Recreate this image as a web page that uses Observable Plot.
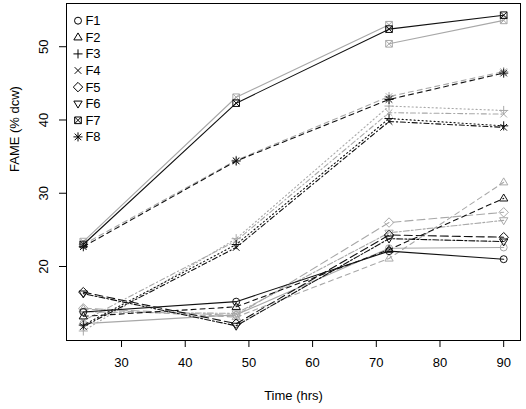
<!DOCTYPE html>
<html><head><meta charset="utf-8">
<script src="https://cdn.jsdelivr.net/npm/d3@7"></script>
<script src="https://cdn.jsdelivr.net/npm/@observablehq/plot@0.6"></script>
<style>body{margin:0;background:#fff} svg{display:block}</style>
</head><body><div id="chart"></div>
<script>
// ---- data ----
const times = [24, 48, 72, 90];
const fractions = ["F1", "F2", "F3", "F4", "F5", "F6", "F7", "F8"];
const xTicks = [30, 40, 50, 60, 70, 80, 90];
const yTicks = [20, 30, 40, 50];

const F1_black = [13.8, 15.2, 22.1, 21.0];
const F1_gray  = [12.2, 13.4, 22.5, 22.6];
const F2_black = [13.2, 14.5, 22.3, 29.3];
const F2_gray  = [14.2, 13.1, 21.1, 31.5];
const F3_black = [12.0, 23.0, 40.2, 39.2];
const F3_gray  = [11.2, 23.8, 41.9, 41.3];
const F4_black = [11.8, 22.6, 39.8, 39.0];
const F4_gray  = [12.6, 23.5, 41.0, 40.8];
const F5_black = [16.5, 12.2, 24.3, 24.0];
const F5_gray  = [14.3, 13.3, 26.0, 27.4];
const F6_black = [16.3, 11.9, 23.8, 23.4];
const F6_gray  = [13.8, 13.6, 24.6, 26.3];
const F7_black = [23.0, 42.3, 52.4, 54.3];
const F7_gray_times = [24, 48, 72];
const F7_gray  = [23.4, 43.1, 53.0];
const F7_gray2_times = [72, 90];
const F7_gray2 = [50.4, 53.6];
const F8_black = [22.7, 34.4, 42.8, 46.4];
const F8_gray  = [23.0, 34.5, 43.2, 46.6];

const BLACK = "#111", GRAY = "#a8a8a8";

// ---- R-like symbols ----
const rad = s => Math.sqrt(s / Math.PI);
const sym = {
  F1: {draw(c, s) { const r = rad(s); c.moveTo(r, 0); c.arc(0, 0, r, 0, 2 * Math.PI); }},
  F2: {draw(c, s) { const r = rad(s) * 1.25; c.moveTo(0, -r); c.lineTo(r * 0.95, r * 0.6); c.lineTo(-r * 0.95, r * 0.6); c.closePath(); }},
  F3: {draw(c, s) { const r = rad(s) * 1.3; c.moveTo(-r, 0); c.lineTo(r, 0); c.moveTo(0, -r); c.lineTo(0, r); }},
  F4: {draw(c, s) { const r = rad(s) * 0.95; c.moveTo(-r, -r); c.lineTo(r, r); c.moveTo(-r, r); c.lineTo(r, -r); }},
  F5: {draw(c, s) { const r = rad(s) * 1.35; c.moveTo(0, -r); c.lineTo(r, 0); c.lineTo(0, r); c.lineTo(-r, 0); c.closePath(); }},
  F6: {draw(c, s) { const r = rad(s) * 1.25; c.moveTo(0, r); c.lineTo(r * 0.95, -r * 0.6); c.lineTo(-r * 0.95, -r * 0.6); c.closePath(); }},
  F7: {draw(c, s) { const r = rad(s) * 0.95; c.rect(-r, -r, 2 * r, 2 * r); c.moveTo(-r, -r); c.lineTo(r, r); c.moveTo(-r, r); c.lineTo(r, -r); }},
  F8: {draw(c, s) { const r = rad(s) * 1.3, q = r * 0.72; c.moveTo(-r, 0); c.lineTo(r, 0); c.moveTo(0, -r); c.lineTo(0, r); c.moveTo(-q, -q); c.lineTo(q, q); c.moveTo(-q, q); c.lineTo(q, -q); }}
};
const dash = {F1: null, F2: "5,4", F3: "1.2,2.8", F4: "1.2,2.8,5,2.8", F5: "8,4", F6: "2,2,6,2", F7: null, F8: "5,4"};

const series = [
  {f: "F1", color: GRAY, t: times, v: F1_gray},
  {f: "F2", color: GRAY, t: times, v: F2_gray},
  {f: "F3", color: GRAY, t: times, v: F3_gray},
  {f: "F4", color: GRAY, t: times, v: F4_gray},
  {f: "F5", color: GRAY, t: times, v: F5_gray},
  {f: "F6", color: GRAY, t: times, v: F6_gray},
  {f: "F7", color: GRAY, t: F7_gray_times, v: F7_gray},
  {f: "F7", color: GRAY, t: F7_gray2_times, v: F7_gray2},
  {f: "F8", color: GRAY, t: times, v: F8_gray},
  {f: "F1", color: BLACK, t: times, v: F1_black},
  {f: "F2", color: BLACK, t: times, v: F2_black},
  {f: "F3", color: BLACK, t: times, v: F3_black},
  {f: "F4", color: BLACK, t: times, v: F4_black},
  {f: "F5", color: BLACK, t: times, v: F5_black},
  {f: "F6", color: BLACK, t: times, v: F6_black},
  {f: "F7", color: BLACK, t: times, v: F7_black},
  {f: "F8", color: BLACK, t: times, v: F8_black}
];

const marks = [];
for (const s of series) {
  const rows = s.t.map((t, i) => ({t, v: s.v[i]}));
  marks.push(Plot.line(rows, {x: "t", y: "v", stroke: s.color, strokeWidth: 1.1, strokeDasharray: dash[s.f]}));
  marks.push(Plot.dot(rows, {x: "t", y: "v", stroke: s.color, fill: "none", strokeWidth: 1, r: 3.5, symbol: sym[s.f]}));
}

const plot = Plot.plot({
  width: 526, height: 409,
  marginLeft: 66, marginRight: 6, marginTop: 3, marginBottom: 69,
  style: {fontFamily: "'Liberation Sans', Arial, sans-serif", fontSize: "13px", background: "#fff", color: "#000"},
  x: {domain: [21.36, 92.64]},
  y: {domain: [9.9, 55.9]},
  marks: [
    ...marks,
    Plot.frame({stroke: "#000", strokeWidth: 1}),
    Plot.axisX({ticks: xTicks, tickSize: 7, tickPadding: 10, label: null, fontSize: 13, stroke: "#000"}),
    Plot.axisY({ticks: yTicks, tickSize: 7, tickPadding: 12, tickRotate: -90, label: null, fontSize: 13, stroke: "#000"}),
    Plot.text(["Time (hrs)"], {frameAnchor: "bottom", dy: 59, fontSize: 13}),
    Plot.text(["FAME (% dcw)"], {frameAnchor: "left", dx: -52, rotate: -90, fontSize: 13})
  ]
});

// legend inside plot (top-left), like R's legend()
const svg = d3.select(plot);
const lg = svg.append("g").attr("font-family", "'Liberation Sans', Arial, sans-serif").attr("font-size", 13);
fractions.forEach((f, i) => {
  const y = 20.7 + i * 16.6;
  lg.append("path").attr("d", d3.symbol(sym[f], 3.5 * 3.5 * Math.PI)()).attr("transform", `translate(78,${y})`)
    .attr("fill", "none").attr("stroke", "#000").attr("stroke-width", 1);
  lg.append("text").attr("x", 93).attr("y", y).attr("dy", "0.35em").text(f);
});

document.getElementById("chart").appendChild(plot);
</script>
</body></html>
